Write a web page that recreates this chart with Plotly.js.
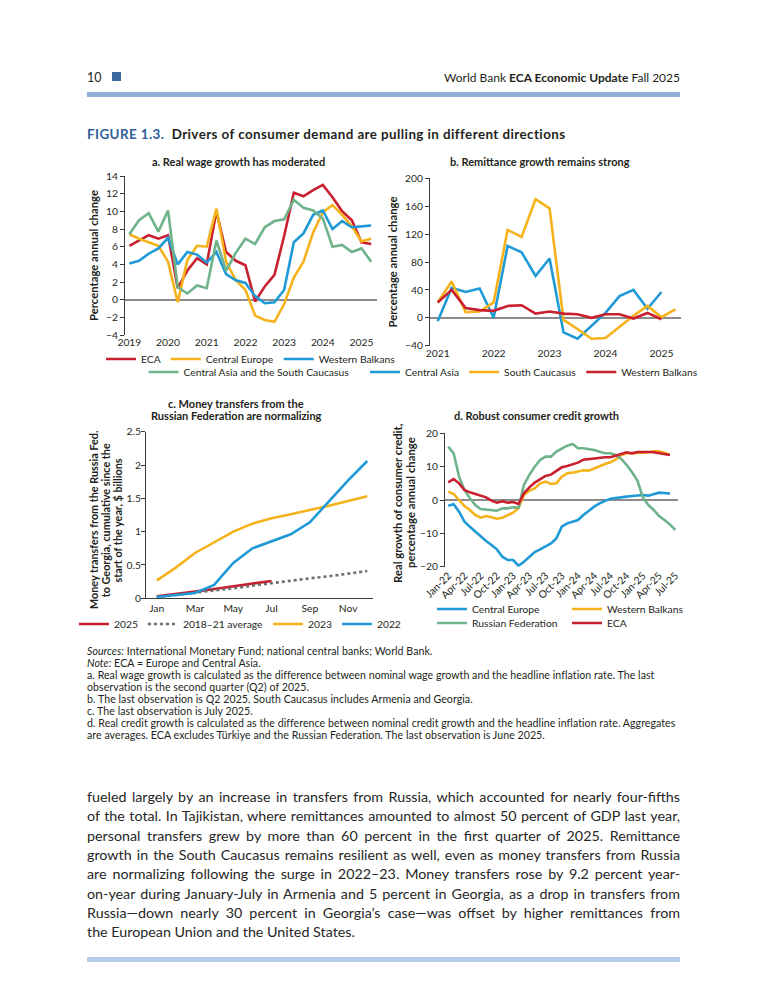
<!DOCTYPE html>
<html>
<head>
<meta charset="utf-8">
<script src="https://cdn.plot.ly/plotly-3.0.1.min.js"></script>
<style>
  html, body { margin:0; padding:0; background:#fff; }
  body { width:768px; height:1008px; position:relative; overflow:hidden; font-family: Lato, "Noto Sans", sans-serif; color:#231f20; }
  #chart { position:absolute; left:0; top:0; width:768px; height:1008px; }
  .t { position:absolute; white-space:nowrap; }
  .body-line { position:absolute; left:87px; width:593px; white-space:nowrap; text-align:justify; text-align-last:justify; font-size:14.3px; font-weight:400; height:19.3px; line-height:19.3px; color:#262626; }
  .note-line { position:absolute; left:87px; white-space:nowrap; font-size:10.6px; letter-spacing:0.05px; line-height:12px; height:12px; }
</style>
</head>
<body>
<div id="chart"></div>

<div class="t" style="left:87px; top:70px; font-size:12.5px; line-height:16px;">10</div>
<div style="position:absolute; left:112px; top:72px; width:9px; height:9px; background:#3d6a9e;"></div>
<div class="t" style="right:88px; top:70px; font-size:12px; line-height:16px;">World Bank <b>ECA Economic Update</b> Fall 2025</div>
<div style="position:absolute; left:87px; top:92px; width:593px; height:5px; background:#8fb1da;"></div>

<div class="t" style="left:87px; top:126px; font-size:13.4px; letter-spacing:0.42px; line-height:16px; font-weight:700;"><span style="color:#2f6099;">FIGURE 1.3.</span>&nbsp; Drivers of consumer demand are pulling in different directions</div>

<div id="notes"></div>
<div id="bodytext"></div>
<div style="position:absolute; left:87px; top:957px; width:593px; height:5px; background:#b6cce7;"></div>

<script>
// ---------------- DATA ----------------
// Panel a: real wage growth (quarterly, 2019Q1–2025Q2), percentage annual change
const aQuarters = ['2019Q1','2019Q2','2019Q3','2019Q4','2020Q1','2020Q2','2020Q3','2020Q4',
  '2021Q1','2021Q2','2021Q3','2021Q4','2022Q1','2022Q2','2022Q3','2022Q4',
  '2023Q1','2023Q2','2023Q3','2023Q4','2024Q1','2024Q2','2024Q3','2024Q4','2025Q1','2025Q2'];
const aTickVals = ['2019Q1','2020Q1','2021Q1','2022Q1','2023Q1','2024Q1','2025Q1'];
const aTickText = ['2019','2020','2021','2022','2023','2024','2025'];
const aECA  = [6.1,6.7,7.3,6.9,7.3,1.3,3.3,4.7,4.0,10.0,5.4,4.4,3.9,-0.2,1.5,2.8,7.2,12.1,11.7,12.4,13.0,11.6,10.0,9.0,6.5,6.3];
const aCE   = [7.4,6.9,6.5,6.1,4.3,-0.3,4.5,6.1,6.0,10.3,4.3,2.2,1.1,-1.8,-2.3,-2.5,-0.5,2.5,4.3,7.6,9.9,10.7,9.6,8.3,6.6,6.9];
const aWB   = [4.1,4.4,5.2,5.8,7.0,4.0,5.4,5.1,4.2,5.4,2.9,2.2,1.9,0.4,-0.4,-0.3,1.1,6.5,7.5,9.6,10.1,8.0,8.9,8.2,8.3,8.4];
const aCASC = [7.4,9.0,9.8,7.7,10.1,1.4,0.7,1.6,1.3,6.7,3.3,5.3,6.9,6.3,8.2,8.9,9.1,11.3,10.4,10.1,9.2,6.0,6.2,5.4,5.8,4.3];

// Panel b: remittance growth (quarterly, 2021Q1–2025Q2), percentage annual change
const bQuarters = ['2021Q1','2021Q2','2021Q3','2021Q4','2022Q1','2022Q2','2022Q3','2022Q4',
  '2023Q1','2023Q2','2023Q3','2023Q4','2024Q1','2024Q2','2024Q3','2024Q4','2025Q1','2025Q2'];
const bTickVals = ['2021Q1','2022Q1','2023Q1','2024Q1','2025Q1'];
const bTickText = ['2021','2022','2023','2024','2025'];
const bCentralAsia     = [-5,43,37,42,0,103,94,60,85,-21,-30,-11,7,31,40,13,37,null];
const bSouthCaucasus   = [22,52,8,9,22,126,116,170,157,-3,-16,-30,-29,-13,3,17,1,12];
const bWesternBalkans  = [22,40,14,11,10,17,18,6,9,6,5,0,5,5,-1,7,-2,null];

// Panel c: money transfers from Russia to Georgia, cumulative since start of year, $ billions
const cMonths = ['Jan','Feb','Mar','Apr','May','Jun','Jul','Aug','Sep','Oct','Nov','Dec'];
const cTickVals = ['Jan','Mar','May','Jul','Sep','Nov'];
const c2025 = [0.03,0.06,0.10,0.14,0.18,0.22,0.26];
const cAvg  = [0.02,0.05,0.08,0.12,0.15,0.19,0.23,0.27,0.30,0.33,0.37,0.41];
const c2023 = [0.27,0.46,0.68,0.84,1.00,1.12,1.20,1.26,1.32,1.39,1.46,1.53];
const c2022 = [0.02,0.05,0.08,0.20,0.53,0.75,0.85,0.96,1.14,1.45,1.77,2.06];

// Panel d: real growth of consumer credit (monthly, Jan-22 – Jul-25), percentage annual change
const dMonths = ['Jan-22','Feb-22','Mar-22','Apr-22','May-22','Jun-22','Jul-22','Aug-22','Sep-22','Oct-22','Nov-22','Dec-22',
  'Jan-23','Feb-23','Mar-23','Apr-23','May-23','Jun-23','Jul-23','Aug-23','Sep-23','Oct-23','Nov-23','Dec-23',
  'Jan-24','Feb-24','Mar-24','Apr-24','May-24','Jun-24','Jul-24','Aug-24','Sep-24','Oct-24','Nov-24','Dec-24',
  'Jan-25','Feb-25','Mar-25','Apr-25','May-25','Jun-25','Jul-25'];
const dTickVals = ['Jan-22','Apr-22','Jul-22','Oct-22','Jan-23','Apr-23','Jul-23','Oct-23','Jan-24','Apr-24','Jul-24','Oct-24','Jan-25','Apr-25','Jul-25'];
const dCE  = [-1.7,-1.3,-3.5,-6.5,-8,-9.5,-11,-12.3,-13.5,-14.8,-17,-18,
  -18,-19.7,-18.5,-17,-15.6,-14.8,-14,-13,-11.5,-8,-7,-6.5,
  -6,-4.5,-3.2,-2,-1,-0.3,0.4,0.6,0.9,1.0,1.2,1.4,
  1.5,1.3,1.8,2.2,2.1,1.9];
const dWB  = [2.5,1.8,0,-1.8,-3,-4.5,-5.3,-4.8,-5.2,-5.6,-5.3,-4.6,
  -3.8,-2.4,1.5,2.8,3.5,5,5.5,4.8,5,7,8,8.2,
  8.5,8.9,8.8,9.5,10.2,10.8,11.3,12.2,13.5,14.0,14.0,14.2,
  14.2,14.3,14.6,14.6,14.2,13.5];
const dRU  = [16,14,7,3,0.5,-1.5,-2.7,-2.8,-3,-3.2,-2.5,-2.5,
  -2.2,-2.3,4.5,7.5,10,12,13,13,14.5,15.5,16.3,16.8,
  15.5,15.5,15.3,15,14.5,14,14,13.5,12.3,10.5,8.3,5.8,
  0.8,-1.5,-3,-4.8,-6,-7.3,-9];
const dECA = [5.3,6.3,5,3,2.3,1.8,1.5,0.8,-0.2,-0.8,-0.4,-0.8,
  -0.6,-1.2,2,3.8,5.2,6.2,7.2,7.6,8.8,9.8,10.2,10.6,
  11.2,12.1,12.3,12.6,12.8,12.8,12.8,13.2,13.8,14.3,14.0,14.4,
  14.5,14.4,14.3,14.0,13.9,13.5];

// Text
const cTitleLines = ['Money transfers from the Russia Fed.', 'to Georgia, cumulative since the', 'start of the year, $ billions'];
const dTitleLines = ['Real growth of consumer credit,', 'percentage annual change'];
const notesLines = [
  '<i>Sources:</i> International Monetary Fund; national central banks; World Bank.',
  '<i>Note:</i> ECA = Europe and Central Asia.',
  'a. Real wage growth is calculated as the difference between nominal wage growth and the headline inflation rate. The last',
  'observation is the second quarter (Q2) of 2025.',
  'b. The last observation is Q2 2025. South Caucasus includes Armenia and Georgia.',
  'c. The last observation is July 2025.',
  'd. Real credit growth is calculated as the difference between nominal credit growth and the headline inflation rate. Aggregates',
  'are averages. ECA excludes Türkiye and the Russian Federation. The last observation is June 2025.'
];
const bodyLines = [
  'fueled largely by an increase in transfers from Russia, which accounted for nearly four-fifths',
  'of the total. In Tajikistan, where remittances amounted to almost 50 percent of GDP last year,',
  'personal transfers grew by more than 60 percent in the first quarter of 2025. Remittance',
  'growth in the South Caucasus remains resilient as well, even as money transfers from Russia',
  'are normalizing following the surge in 2022–23. Money transfers rose by 9.2 percent year-',
  'on-year during January-July in Armenia and 5 percent in Georgia, as a drop in transfers from',
  'Russia—down nearly 30 percent in Georgia’s case—was offset by higher remittances from',
  'the European Union and the United States.'
];

// ---------------- TEXT BLOCKS ----------------
const notesEl = document.getElementById('notes');
notesLines.forEach((s, i) => {
  const d = document.createElement('div');
  d.className = 'note-line';
  d.style.top = (645 + i * 12) + 'px';
  d.innerHTML = s;
  notesEl.appendChild(d);
});
const bodyEl = document.getElementById('bodytext');
bodyLines.forEach((s, i) => {
  const d = document.createElement('div');
  d.className = 'body-line';
  d.style.top = (787 + i * 19.3) + 'px';
  if (i === bodyLines.length - 1) { d.style.textAlignLast = 'left'; }
  d.textContent = s;
  bodyEl.appendChild(d);
});

// ---------------- CHART ----------------
const FONT = 'Lato, "Noto Sans", sans-serif';
const COL = { red:'#c8202f', yellow:'#f5b21a', blue:'#1f9ad6', green:'#6fb38b', zero:'#8c8c8c', dots:'#6d6e71', ink:'#231f20' };
const W = 768, H = 1008;
const px = v => v / W;
const py = v => 1 - v / H;
const LW = 2.6;

function ln(x, y, name, color, xa, ya, legend, dash) {
  return { type:'scatter', mode:'lines', x:x, y:y, name:name, xaxis:xa, yaxis:ya, legend:legend,
           line:{ color:color, width:LW, dash:dash || 'solid' }, hoverinfo:'skip', connectgaps:false };
}

const traces = [
  ln(aQuarters, aECA, 'ECA', COL.red, 'x', 'y', 'legend'),
  ln(aQuarters, aCE, 'Central Europe', COL.yellow, 'x', 'y', 'legend'),
  ln(aQuarters, aWB, 'Western Balkans', COL.blue, 'x', 'y', 'legend'),
  ln(aQuarters, aCASC, 'Central Asia and the South Caucasus', COL.green, 'x', 'y', 'legend2'),

  ln(bQuarters, bCentralAsia, 'Central Asia', COL.blue, 'x2', 'y2', 'legend3'),
  ln(bQuarters, bSouthCaucasus, 'South Caucasus', COL.yellow, 'x2', 'y2', 'legend3'),
  ln(bQuarters, bWesternBalkans, 'Western Balkans', COL.red, 'x2', 'y2', 'legend3'),

  ln(cMonths.slice(0, c2025.length), c2025, '2025', COL.red, 'x3', 'y3', 'legend4'),
  ln(cMonths, cAvg, '2018–21 average', COL.dots, 'x3', 'y3', 'legend4', 'dot'),
  ln(cMonths, c2023, '2023', COL.yellow, 'x3', 'y3', 'legend4'),
  ln(cMonths, c2022, '2022', COL.blue, 'x3', 'y3', 'legend4'),

  ln(dMonths.slice(0, dCE.length), dCE, 'Central Europe', COL.blue, 'x4', 'y4', 'legend5'),
  ln(dMonths.slice(0, dWB.length), dWB, 'Western Balkans', COL.yellow, 'x4', 'y4', 'legend5'),
  ln(dMonths, dRU, 'Russian Federation', COL.green, 'x4', 'y4', 'legend6'),
  ln(dMonths.slice(0, dECA.length), dECA, 'ECA', COL.red, 'x4', 'y4', 'legend6')
];

const tickFont = { family:FONT, size:10.3, color:COL.ink };
const titleFont = { family:FONT, size:11.3, color:COL.ink };
const cTitleFont = { family:FONT, size:10.8, color:COL.ink };

function yax(domain, range, dtick, title, standoff, xa, zeroline) {
  return {
    domain: domain, range: range, dtick: dtick, anchor: xa,
    showline: true, linecolor: '#3a3a3a', linewidth: 1,
    ticks: 'outside', ticklen: 4, tickcolor: '#3a3a3a', tickwidth: 1,
    showgrid: false, zeroline: zeroline, zerolinecolor: COL.zero, zerolinewidth: 2,
    tickfont: tickFont, fixedrange: true,
    title: { text: title, font: titleFont, standoff: standoff }
  };
}
function xax(domain, cats, range, tickvals, ticktext, ya, extra) {
  return Object.assign({
    domain: domain, type: 'category', categoryorder: 'array', categoryarray: cats,
    range: range, tickvals: tickvals, ticktext: ticktext, anchor: ya,
    showline: false, ticks: '', showgrid: false, zeroline: false,
    tickfont: tickFont, fixedrange: true
  }, extra || {});
}

function leg(xc, yc, xanchor, extra) {
  return Object.assign({
    orientation: 'h', x: px(xc), y: py(yc), xanchor: xanchor, yanchor: 'middle',
    xref: 'paper', yref: 'paper', bgcolor: 'rgba(0,0,0,0)', borderwidth: 0,
    font: { family: FONT, size: 10.3, color: COL.ink }, itemwidth: 30, traceorder: 'normal',
    itemclick: false, itemdoubleclick: false
  }, extra || {});
}

const panelTitleFont = { family: FONT, size: 11, color: COL.ink };
function note(text, x, y, font, angle) {
  return { text: text, x: px(x), y: py(y), xref: 'paper', yref: 'paper', showarrow: false,
           xanchor: 'center', yanchor: 'middle', font: font, textangle: angle || 0 };
}

const annotations = [
  note('<b>a. Real wage growth has moderated</b>', 238, 161, panelTitleFont),
  note('<b>b. Remittance growth remains strong</b>', 540, 161, panelTitleFont),
  note('<b>c. Money transfers from the</b>', 236, 403, panelTitleFont),
  note('<b>Russian Federation are normalizing</b>', 236, 415, panelTitleFont),
  note('<b>d. Robust consumer credit growth</b>', 536, 415, panelTitleFont)
];
cTitleLines.forEach((s, i) => annotations.push(note('<b>' + s + '</b>', 93 + i * 12.2, 520, cTitleFont, -90)));
dTitleLines.forEach((s, i) => annotations.push(note('<b>' + s + '</b>', 397 + i * 13, 503, titleFont, -90)));

const layout = {
  width: W, height: H,
  margin: { l:0, r:0, t:0, b:0 },
  paper_bgcolor: 'rgba(0,0,0,0)', plot_bgcolor: 'rgba(0,0,0,0)',
  font: { family: FONT, color: COL.ink },
  showlegend: true,

  xaxis:  xax([px(125), px(377)], aQuarters, [-0.45, 25.6], aTickVals, aTickText, 'y'),
  yaxis:  yax([py(335), py(176)], [-4, 14], 2, '<b>Percentage annual change</b>', 5, 'x', true),

  xaxis2: xax([px(430), px(681)], bQuarters, [-0.55, 17.4], bTickVals, bTickText, 'y2'),
  yaxis2: yax([py(345.7), py(178.3)], [-40, 200], 40, '<b>Percentage annual change</b>', 5, 'x2', true),

  xaxis3: xax([px(146), px(373)], cMonths, [-0.56, 11.3], cTickVals, cTickVals, 'y3',
              { showline: true, linecolor: '#3a3a3a', linewidth: 1 }),
  yaxis3: Object.assign(yax([py(598.3), py(431.7)], [0, 2.5], 0.5, '', 0, 'x3', false),
              { tickvals: [0, 0.5, 1, 1.5, 2, 2.5], ticktext: ['0', '0.5', '1', '1.5', '2', '2.5'], ticklabelstandoff: -2 }),

  xaxis4: xax([px(445), px(678)], dMonths, [-0.6, 42.5], dTickVals, dTickVals, 'y4', { tickangle: -45 }),
  yaxis4: yax([py(566.7), py(433.3)], [-20, 20], 10, '', 5, 'x4', true),

  legend:  leg(251, 359, 'center'),
  legend2: leg(249, 372, 'center'),
  legend3: leg(534, 372, 'center'),
  legend4: leg(240, 624, 'center'),
  legend5: leg(432, 609, 'left', { entrywidthmode: 'pixels', entrywidth: 90 }),
  legend6: leg(432, 623, 'left', { entrywidthmode: 'pixels', entrywidth: 90 }),

  annotations: annotations
};

Plotly.newPlot('chart', traces, layout, { staticPlot: true, displayModeBar: false });
</script>
</body>
</html>
